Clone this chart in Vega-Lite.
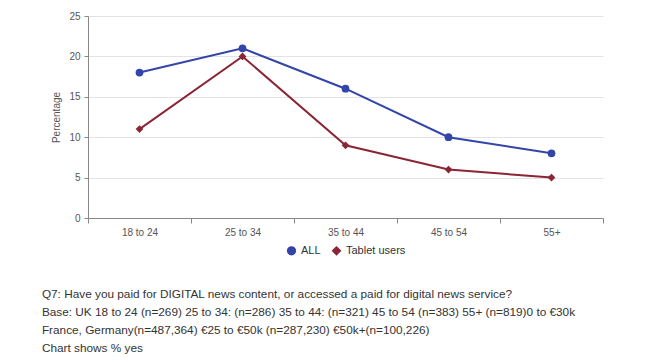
{
  "$schema": "https://vega.github.io/schema/vega-lite/v6.json",
  "width": 515,
  "height": 202,
  "autosize": {"type": "none"},
  "padding": {"left": 88, "top": 16, "right": 68, "bottom": 145},
  "background": "white",
  "config": {
    "font": "Liberation Sans",
    "view": {"stroke": null},
    "legend": {"layout": {"bottom": {"anchor": "middle"}}}
  },
  "title": {
    "text": [
      "Q7: Have you paid for DIGITAL news content, or accessed a paid for digital news service?",
      "Base: UK 18 to 24 (n=269) 25 to 34: (n=286) 35 to 44: (n=321) 45 to 54 (n=383) 55+ (n=819)0 to €30k",
      "France, Germany(n=487,364) €25 to €50k (n=287,230) €50k+(n=100,226)",
      "Chart shows % yes"
    ],
    "orient": "bottom",
    "anchor": "start",
    "dx": -10,
    "offset": 31,
    "fontSize": 11.8,
    "fontWeight": "normal",
    "color": "#333333",
    "lineHeight": 18,
    "font": "Liberation Sans"
  },
  "data": {
    "values": [
      {"age": "18 to 24", "series": "ALL", "value": 18},
      {"age": "25 to 34", "series": "ALL", "value": 21},
      {"age": "35 to 44", "series": "ALL", "value": 16},
      {"age": "45 to 54", "series": "ALL", "value": 10},
      {"age": "55+", "series": "ALL", "value": 8},
      {"age": "18 to 24", "series": "Tablet users", "value": 11},
      {"age": "25 to 34", "series": "Tablet users", "value": 20},
      {"age": "35 to 44", "series": "Tablet users", "value": 9},
      {"age": "45 to 54", "series": "Tablet users", "value": 6},
      {"age": "55+", "series": "Tablet users", "value": 5}
    ]
  },
  "encoding": {
    "x": {
      "field": "age",
      "type": "nominal",
      "sort": null,
      "scale": {"paddingInner": 0, "paddingOuter": 0},
      "axis": {
        "title": null,
        "labelAngle": 0,
        "tickBand": "extent",
        "domainColor": "#888888",
        "tickColor": "#888888",
        "tickSize": 5,
        "labelColor": "#555555",
        "labelFontSize": 10,
        "labelPadding": 4,
        "grid": false
      }
    },
    "y": {
      "field": "value",
      "type": "quantitative",
      "scale": {"domain": [0, 25]},
      "axis": {
        "title": "Percentage",
        "titleFontSize": 10,
        "titleFontWeight": "normal",
        "titleColor": "#555555",
        "titlePadding": 7,
        "values": [0, 5, 10, 15, 20, 25],
        "domainColor": "#888888",
        "tickColor": "#888888",
        "tickSize": 4,
        "labelColor": "#555555",
        "labelFontSize": 10,
        "labelPadding": 4,
        "gridColor": "#e3e3e3"
      }
    },
    "color": {
      "field": "series",
      "type": "nominal",
      "scale": {"domain": ["ALL", "Tablet users"], "range": ["#3344aa", "#8b2535"]},
      "legend": {
        "title": null,
        "orient": "bottom",
        "direction": "horizontal",
        "labelFontSize": 11,
        "labelColor": "#333333",
        "offset": 8,
        "symbolSize": 60,
        "columnPadding": 8
      }
    },
    "shape": {
      "field": "series",
      "type": "nominal",
      "scale": {"domain": ["ALL", "Tablet users"], "range": ["circle", "diamond"]},
      "legend": null
    }
  },
  "layer": [
    {"mark": {"type": "line", "strokeWidth": 2}},
    {"mark": {"type": "point", "filled": true, "opacity": 1, "size": 60}}
  ]
}
